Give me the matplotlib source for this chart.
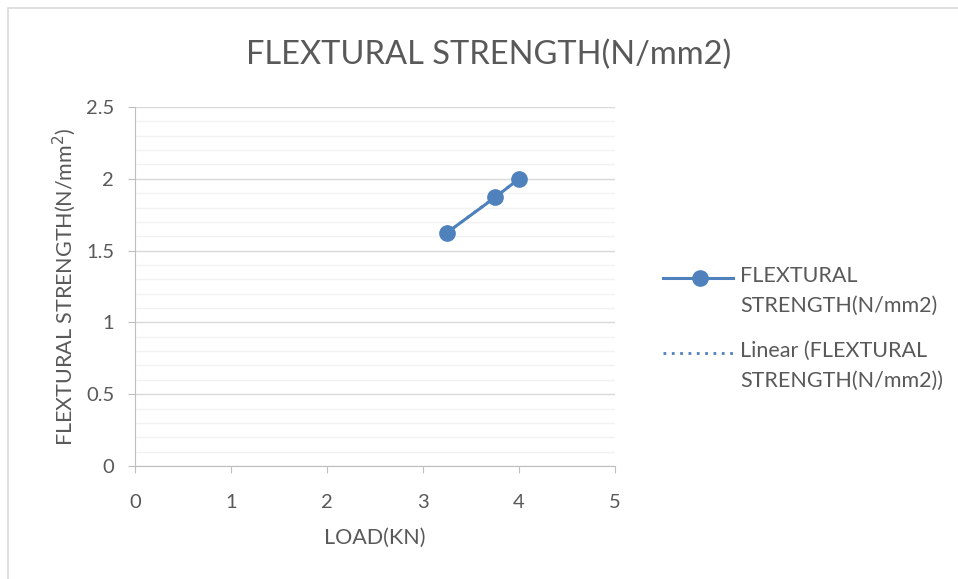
import matplotlib.pyplot as plt
import numpy as np
from matplotlib.lines import Line2D

plt.rcParams['font.family'] = ['Lato', 'DejaVu Sans']

load = [3.25, 3.75, 4.0]
strength = [1.625, 1.87, 2.0]

title = 'FLEXTURAL STRENGTH(N/mm2)'
series_name = 'FLEXTURAL\nSTRENGTH(N/mm2)'
trend_name = 'Linear (FLEXTURAL\nSTRENGTH(N/mm2))'

blue = '#4F81BD'
grey = '#595959'
W, H = 958, 579

fig = plt.figure(figsize=(9.58, 5.79), dpi=100)

# chart area border (only top and left edges are visible in the crop)
fig.add_artist(Line2D([8 / W, 8 / W, 1], [0, 1 - 8 / H, 1 - 8 / H],
                      transform=fig.transFigure, color='#D9D9D9', linewidth=1.2))

ax = fig.add_axes([135 / W, 1 - 466 / H, 480 / W, 359 / H])

# trendline (linear fit), drawn under the series
coef = np.polyfit(load, strength, 1)
xt = np.array([min(load), max(load)])
ax.plot(xt, np.polyval(coef, xt), linestyle=(0, (1, 2)), color=blue, linewidth=2,
        zorder=2)
ax.plot(load, strength, color=blue, linewidth=2.2, marker='o', markersize=11, zorder=3)

ax.set_xlim(0, 5)
ax.set_ylim(0, 2.5)
ax.set_xticks(np.arange(0, 6, 1))
ax.set_yticks(np.arange(0, 2.6, 0.5))
ax.set_yticklabels(['0', '0.5', '1', '1.5', '2', '2.5'])
ax.set_yticks(np.arange(0, 2.51, 0.1), minor=True)
ax.grid(which='major', axis='y', color='#D9D9D9', linewidth=1)
ax.grid(which='minor', axis='y', color='#F2F2F2', linewidth=1)
ax.set_axisbelow(True)
for s in ['top', 'right']:
    ax.spines[s].set_visible(False)
for s in ['left', 'bottom']:
    ax.spines[s].set_color('#BFBFBF')
ax.tick_params(axis='both', which='major', colors='#BFBFBF', labelcolor=grey,
               labelsize=14.5, length=5, direction='out')
ax.tick_params(axis='x', which='major', pad=15)
ax.tick_params(axis='y', which='major', pad=10)
ax.tick_params(axis='y', which='minor', length=0)

ax.set_xlabel('LOAD(KN)', fontsize=15.5, color=grey, labelpad=12)
ax.set_ylabel('FLEXTURAL STRENGTH(N/mm$^2$)', fontsize=15.5, color=grey, labelpad=6)
fig.text(489 / W, 1 - 55 / H, title, fontsize=23.5, color=grey, ha='center', va='center')

# legend, handles aligned with the first text line like the original
fig.add_artist(Line2D([663 / W, 733 / W], [1 - 278 / H] * 2, transform=fig.transFigure,
                      color=blue, linewidth=2.2))
fig.add_artist(Line2D([700 / W], [1 - 278 / H], transform=fig.transFigure,
                      color=blue, marker='o', markersize=11))
fig.add_artist(Line2D([663 / W, 733 / W], [1 - 353 / H] * 2, transform=fig.transFigure,
                      color=blue, linewidth=2, linestyle=(0, (1, 2))))
for label, y in [(series_name, 278), (trend_name, 353)]:
    fig.text(740 / W, 1 - (y - 12) / H, label, fontsize=15.5, color=grey,
             ha='left', va='top', linespacing=1.6)

fig.savefig('out.png', dpi=100)
